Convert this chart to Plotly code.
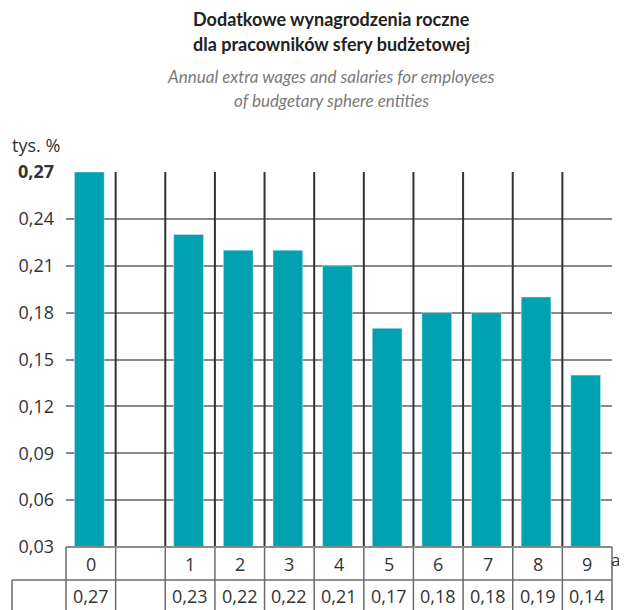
import plotly.graph_objects as go

categories = ["0", "", "1", "2", "3", "4", "5", "6", "7", "8", "9"]
values = [0.27, None, 0.23, 0.22, 0.22, 0.21, 0.17, 0.18, 0.18, 0.19, 0.14]
value_labels = ["0,27", "", "0,23", "0,22", "0,22", "0,21", "0,17", "0,18", "0,18", "0,19", "0,14"]
y_ticks = [0.03, 0.06, 0.09, 0.12, 0.15, 0.18, 0.21, 0.24, 0.27]
y_tick_labels = ["0,03", "0,06", "0,09", "0,12", "0,15", "0,18", "0,21", "0,24", "<b>0,27</b>"]

FONT = "Open Sans"
TFONT = "Lato"
TEAL = "#00a2b2"
OFF = 8  # page body margin
W, H = 627 - OFF, 610 - OFF
# target plot area in window pixels
PL, PR, PT, PB = 66, 612, 172, 547
L, T = PL - OFF, PT - OFF
R = W - (PR - OFF)
B = H - (PB - OFF)
plot_h = PB - PT
plot_w = PR - PL

def py(win_y):
    return (PB - win_y) / plot_h

def px(win_x):
    return (win_x - PL) / plot_w

xs = list(range(len(categories)))

fig = go.Figure()
fig.add_trace(go.Bar(x=xs, y=values, marker_color=TEAL, width=0.6, offset=-0.33,
                     hoverinfo="skip"))

shapes = []
bounds = [i + 0.5 for i in range(len(categories) - 1)]
for b in bounds:
    shapes.append(dict(type="line", xref="x", yref="paper", x0=b, x1=b, y0=0, y1=1,
                       line=dict(color="#333333", width=2), layer="above"))
    shapes.append(dict(type="line", xref="x", yref="paper", x0=b, x1=b, y0=0, y1=py(640),
                       line=dict(color="#6a6a6a", width=1.5)))
# table borders
shapes.append(dict(type="line", xref="paper", yref="paper", x0=0, x1=1, y0=0, y1=0,
                   line=dict(color="#8a8a8a", width=2)))
shapes.append(dict(type="line", xref="paper", yref="paper", x0=px(12), x1=1, y0=py(580), y1=py(580),
                   line=dict(color="#6a6a6a", width=1.5)))
shapes.append(dict(type="line", xref="paper", yref="paper", x0=0, x1=0, y0=0, y1=py(640),
                   line=dict(color="#6a6a6a", width=1.5)))
shapes.append(dict(type="line", xref="paper", yref="paper", x0=1, x1=1, y0=0, y1=py(640),
                   line=dict(color="#6a6a6a", width=1.5)))
shapes.append(dict(type="line", xref="paper", yref="paper", x0=px(12), x1=px(12), y0=py(580), y1=py(640),
                   line=dict(color="#6a6a6a", width=1.5)))

annotations = []
for x, c, v in zip(xs, categories, value_labels):
    if c:
        annotations.append(dict(x=x, y=py(564), xref="x", yref="paper", text=c, showarrow=False,
                                font=dict(family=FONT, size=18, color="#333333"), yanchor="middle"))
    if v:
        annotations.append(dict(x=x, y=py(596), xref="x", yref="paper", text=v, showarrow=False,
                                font=dict(family=FONT, size=18, color="#333333"), yanchor="middle"))
annotations.append(dict(x=px(621), y=py(559), xref="paper", yref="paper", text="a", showarrow=False,
                        xanchor="right", yanchor="middle", borderpad=0,
                        font=dict(family=FONT, size=17, color="#333333")))
annotations.append(dict(x=px(10), y=py(145), xref="paper", yref="paper", text="tys. %", showarrow=False,
                        xanchor="left", yanchor="middle", font=dict(family=FONT, size=18, color="#333333")))
cx = px(331)
annotations.append(dict(x=cx, y=py(19), xref="paper", yref="paper", text="<b>Dodatkowe wynagrodzenia roczne</b>",
                        showarrow=False, yanchor="middle", font=dict(family=TFONT, size=18, color="#222222")))
annotations.append(dict(x=cx, y=py(44), xref="paper", yref="paper", text="<b>dla pracowników sfery budżetowej</b>",
                        showarrow=False, yanchor="middle", font=dict(family=TFONT, size=18, color="#222222")))
annotations.append(dict(x=cx, y=py(76), xref="paper", yref="paper", text="<i>Annual extra wages and salaries for employees</i>",
                        showarrow=False, yanchor="middle", font=dict(family=TFONT, size=17, color="#7a7a7a")))
annotations.append(dict(x=cx, y=py(101), xref="paper", yref="paper", text="<i>of budgetary sphere entities</i>",
                        showarrow=False, yanchor="middle", font=dict(family=TFONT, size=17, color="#7a7a7a")))

fig.update_layout(
    width=W, height=H,
    margin=dict(l=L, r=R, t=T, b=B, pad=0, autoexpand=False),
    paper_bgcolor="white", plot_bgcolor="white",
    showlegend=False,
    shapes=shapes, annotations=annotations,
    xaxis=dict(range=[-0.5, len(categories) - 0.5], showticklabels=False, showgrid=False,
               zeroline=False, ticks="", fixedrange=True),
    yaxis=dict(range=[0.03, 0.27], tickvals=y_ticks, ticktext=y_tick_labels,
               showgrid=True, gridcolor="#8a8a8a", gridwidth=2, zeroline=False,
               ticks="", ticklabelstandoff=11,
               tickfont=dict(family=FONT, size=18, color="#333333")),
)

fig.write_html("out.html")
